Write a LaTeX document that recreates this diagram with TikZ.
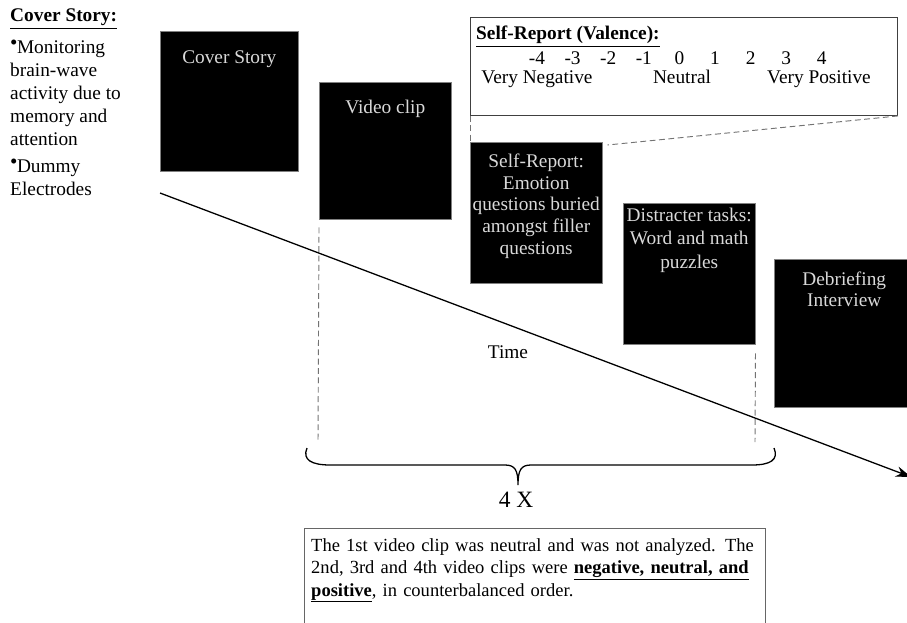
\documentclass[tikz,border=0pt]{standalone}
\usepackage{fontspec}
\setmainfont{Liberation Serif}
\usetikzlibrary{positioning, arrows.meta}

\newcommand{\dotmark}{\raisebox{3.2pt}{\fontsize{18}{18}\selectfont •}}

\begin{document}
\begin{tikzpicture}[x=0.03cm, y=-0.03cm,
    darkbox/.style={draw=gray, fill=black, anchor=north west, inner sep=0pt},
    boxtext/.style={text=white!85!black, align=center, inner sep=0pt, anchor=north,
      font=\fontsize{16.5}{19}\selectfont},
    plaintext/.style={inner sep=0pt, font=\fontsize{16.5}{19.6}\selectfont},
    guide/.style={black!55, line width=0.8pt, dash pattern=on 5pt off 3pt},
    frame/.style={anchor=north west, inner sep=0pt, line width=0.8pt}]

    \clip (0,0) rectangle (907,622);

    % Cover story notes
    \node[plaintext, anchor=base west] (coverTitle) at (10,22) {\underline{\textbf{Cover Story:}}};
    \node[plaintext, anchor=north west, align=left] (coverMonitor) at (10,40)
        {\dotmark\kern-0.5pt Monitoring\\brain-wave\\activity due to\\memory and\\attention};
    \node[plaintext, anchor=north west, align=left] (coverDummy) at (10,159)
        {\dotmark\kern-0.5pt Dummy\\Electrodes};

    % Procedure boxes
    \node[darkbox, minimum width=4.14cm, minimum height=4.2cm] (cover) at (160,31) {};
    \node[boxtext, below=0.57cm of cover.north] (coverText) {Cover Story};

    \node[darkbox, minimum width=3.96cm, minimum height=4.11cm] (video) at (319,82) {};
    \node[boxtext, below=0.54cm of video.north] (videoText) {Video clip};

    \node[darkbox, minimum width=3.96cm, minimum height=4.23cm] (selfrep) at (470,142) {};
    \node[boxtext, below=0.36cm of selfrep.north, font=\fontsize{16.5}{18.4}\selectfont] (selfrepText)
        {Self-Report:\\Emotion\\questions buried\\amongst filler\\questions};

    \node[darkbox, minimum width=3.96cm, minimum height=4.23cm] (distr) at (623,203) {};
    \node[boxtext, below=0.15cm of distr.north, font=\fontsize{16.5}{19.8}\selectfont] (distrText)
        {Distracter tasks:\\Word and math\\puzzles};

    \node[darkbox, minimum width=4.2cm, minimum height=4.44cm] (debrief) at (774,259) {};
    \node[boxtext, below=0.39cm of debrief.north, font=\fontsize{16.5}{18}\selectfont] (debriefText)
        {Debriefing\\Interview};

    % Valence scale
    \node[frame, draw=black!75, minimum width=12.81cm, minimum height=2.94cm] (valence) at (470,17) {};
    \node[plaintext, anchor=base west] (valenceTitle) at (476,40) {\underline{\textbf{Self-Report (Valence):}}};
    \foreach \v [count=\i from 0] in {-4,-3,-2,-1,0,1,2,3,4}
        \node[plaintext, anchor=base] (tick\i) at ({537+35.6*\i},65) {\v};
    \node[plaintext, anchor=base] (veryNeg) at (537,84) {Very Negative};
    \node[plaintext, anchor=base] (neutral) at (682,84) {Neutral};
    \node[plaintext, anchor=base] (veryPos) at (819,84) {Very Positive};

    \draw[guide] (valence.south west) -- (selfrep.north west);
    \draw[guide] (valence.south east) -- ([shift={(0.15cm,-0.09cm)}]selfrep.north east);

    % Repetition markers
    \coordinate (videoEnd) at (318,442);
    \coordinate (distrEnd) at (755,442);
    \draw[guide] ([yshift=-0.24cm]video.south west) -- (videoEnd);
    \draw[guide] ([yshift=-0.27cm]distr.south east) -- (distrEnd);

    % Time axis
    \coordinate (timeStart) at (160,193);
    \coordinate (timeEnd) at (911,477);
    \draw[-{Stealth[length=13pt, width=9pt]}, line width=1.1pt] (timeStart) -- (timeEnd);
    \node[plaintext] (timeLabel) at (508,352) {Time};

    % Brace
    \draw[line width=1.1pt] (307,448) .. controls (302,460) and (312,465) .. (330,465)
        -- (505,465) .. controls (515,465) and (518,470) .. (518,485)
        .. controls (518,470) and (521,465) .. (531,465)
        -- (752,465) .. controls (770,465) and (779,460) .. (774,448);
    \node[inner sep=0pt, font=\fontsize{20}{24}\selectfont] (reps) at (516,500) {4 X};

    % Note on clip order
    \node[frame, draw=black!60, minimum width=13.83cm, minimum height=3.5cm] (note) at (304,528) {};
    \node[plaintext, anchor=north west, align=left, text width=13.35cm,
          font=\fontsize{15.8}{19.2}\selectfont] (noteText) at (311,538)
        {\makebox[13.35cm][s]{The 1st video clip was neutral and was not analyzed. The}\\
         \makebox[13.35cm][s]{2nd, 3rd and 4th video clips were \underline{\textbf{negative, neutral, and}}}\\
         \underline{\textbf{positive}}, in counterbalanced order.};
\end{tikzpicture}
\end{document}
